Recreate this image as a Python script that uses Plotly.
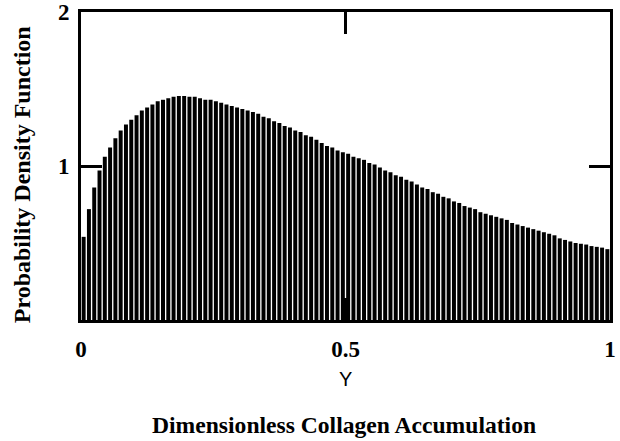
import plotly.graph_objects as go

# Bin centres of the probability density histogram (Y, dimensionless collagen accumulation)
y_centres = [round(0.005 + 0.01 * i, 3) for i in range(100)]

pdf_values = [
    0.54, 0.72, 0.86, 0.97, 1.06, 1.12, 1.18, 1.23, 1.27, 1.30,
    1.33, 1.36, 1.38, 1.40, 1.42, 1.43, 1.44, 1.45, 1.455, 1.455,
    1.45, 1.45, 1.44, 1.43, 1.43, 1.42, 1.41, 1.40, 1.39, 1.38,
    1.37, 1.36, 1.35, 1.34, 1.32, 1.31, 1.29, 1.28, 1.26, 1.25,
    1.23, 1.22, 1.20, 1.19, 1.17, 1.15, 1.13, 1.12, 1.10, 1.09,
    1.08, 1.06, 1.05, 1.04, 1.02, 1.01, 0.99, 0.97, 0.96, 0.94,
    0.93, 0.91, 0.90, 0.88, 0.86, 0.85, 0.83, 0.82, 0.80, 0.79,
    0.77, 0.76, 0.74, 0.73, 0.72, 0.70, 0.69, 0.68, 0.67, 0.66,
    0.65, 0.63, 0.62, 0.61, 0.60, 0.59, 0.58, 0.57, 0.56, 0.55,
    0.53, 0.52, 0.51, 0.50, 0.495, 0.49, 0.48, 0.475, 0.47, 0.46,
]

x_tickvals = [0, 0.5, 1]
x_ticktext = ["0", "0.5", "1"]
y_tickvals = [0, 1, 2]
y_ticktext = ["", "1", "2"]

x_label = "Y"
caption = "Dimensionless Collagen Accumulation"
y_title = "Probability Density Function"

serif = "Liberation Serif, Times New Roman, serif"

fig = go.Figure(
    go.Bar(
        x=y_centres,
        y=pdf_values,
        width=0.0075,
        marker=dict(color="black", line=dict(width=0)),
        hoverinfo="x+y",
    )
)

fig.update_layout(
    width=620,
    height=441,
    margin=dict(l=81, r=10, t=12, b=121),
    paper_bgcolor="white",
    plot_bgcolor="white",
    showlegend=False,
    font=dict(family=serif, color="black"),
)

fig.update_xaxes(
    range=[0, 1],
    tickvals=x_tickvals,
    ticktext=x_ticktext,
    ticks="inside",
    ticklen=22,
    tickwidth=3,
    tickcolor="black",
    showline=True,
    linecolor="black",
    linewidth=3,
    mirror="ticks",
    showgrid=False,
    zeroline=False,
    automargin=False,
    tickfont=dict(family=serif, size=23, color="black", weight="bold"),
    ticklabelstandoff=6,
)

fig.update_yaxes(
    range=[0, 2],
    tickvals=y_tickvals,
    ticktext=y_ticktext,
    ticks="inside",
    ticklen=21,
    tickwidth=3,
    tickcolor="black",
    showline=True,
    linecolor="black",
    linewidth=3,
    mirror="ticks",
    showgrid=False,
    zeroline=False,
    automargin=False,
    tickfont=dict(family=serif, size=23, color="black", weight="bold"),
    ticklabelstandoff=4,
)

fig.add_annotation(
    x=0.5, y=0, xref="paper", yref="paper",
    text=x_label, showarrow=False,
    xanchor="center", yanchor="middle", yshift=-59,
    font=dict(family="Liberation Sans, Arial, sans-serif", size=20, color="black"),
)
fig.add_annotation(
    x=0.497, y=0, xref="paper", yref="paper",
    text=caption, showarrow=False,
    xanchor="center", yanchor="middle", yshift=-105,
    font=dict(family=serif, size=23.6, color="black", weight="bold"),
)
fig.add_annotation(
    x=0, y=0.47, xref="paper", yref="paper",
    text=y_title, showarrow=False, textangle=-90,
    xanchor="center", yanchor="middle", xshift=-59,
    font=dict(family=serif, size=24, color="black", weight="bold"),
)

fig.write_html("out.html")
